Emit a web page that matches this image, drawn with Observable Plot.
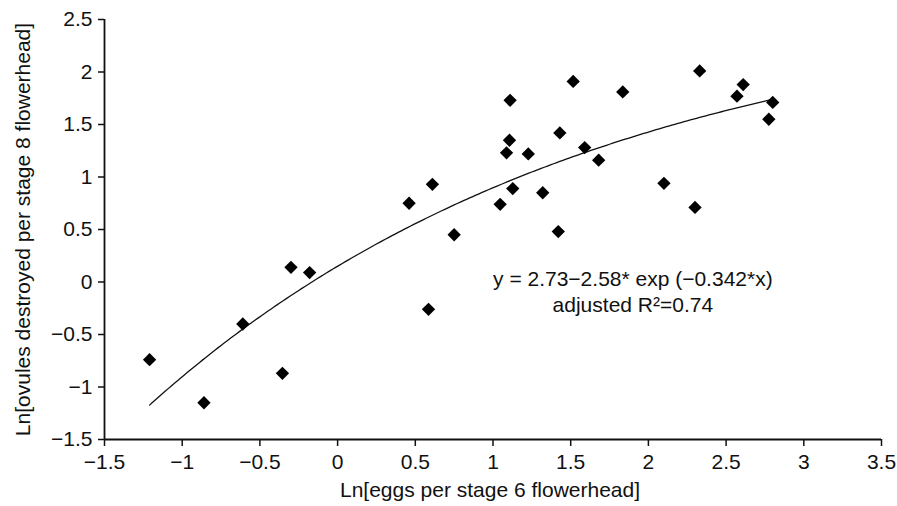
<!DOCTYPE html>
<html><head><meta charset="utf-8">
<script src="https://cdn.jsdelivr.net/npm/d3@7"></script>
<script src="https://cdn.jsdelivr.net/npm/@observablehq/plot@0.6"></script>
<style>html,body{margin:0;padding:0;background:#fff;}</style>
</head><body><div id="chart"></div>
<script>
// Observed points: Ln[eggs per stage 6 flowerhead] vs Ln[ovules destroyed per stage 8 flowerhead]
const eggsLn = [-1.21, -0.86, -0.61, -0.355, -0.30, -0.18, 0.46, 0.585, 0.61, 0.75,
  1.046, 1.087, 1.106, 1.11, 1.127, 1.227, 1.32, 1.42, 1.43, 1.516,
  1.59, 1.68, 1.835, 2.10, 2.30, 2.33, 2.57, 2.61, 2.775, 2.80];
const ovulesLn = [-0.74, -1.15, -0.40, -0.87, 0.14, 0.09, 0.75, -0.26, 0.93, 0.45,
  0.74, 1.23, 1.35, 1.73, 0.89, 1.22, 0.85, 0.48, 1.42, 1.91,
  1.28, 1.16, 1.81, 0.94, 0.71, 2.01, 1.77, 1.88, 1.55, 1.71];

const xTicks = [-1.5, -1, -0.5, 0, 0.5, 1, 1.5, 2, 2.5, 3, 3.5];
const yTicks = [-1.5, -1, -0.5, 0, 0.5, 1, 1.5, 2, 2.5];
const xLabel = "Ln[eggs per stage 6 flowerhead]";
const yLabel = "Ln[ovules destroyed per stage 8 flowerhead]";

// Fitted curve stated on the chart: y = 2.73 − 2.58·exp(−0.342·x)
const fitA = 2.73, fitB = 2.58, fitC = 0.342;
const fitXMin = -1.21, fitXMax = 2.8;
const annotationLines = ["y = 2.73\u22122.58* exp (\u22120.342*x)", "adjusted R\u00b2=0.74"];
const annotationX = 1.9, annotationY = -0.08;

const points = eggsLn.map((x, i) => ({x, y: ovulesLn[i]}));
const fitCurve = d3.range(fitXMin, fitXMax + 1e-9, 0.02).map(x => ({x, y: fitA - fitB * Math.exp(-fitC * x)}));
const fmt = d => d < 0 ? "\u2212" + Math.abs(d) : String(d);

const FS = 21;
const chart = Plot.plot({
  width: 897,
  height: 506,
  marginLeft: 104,
  marginRight: 16,
  marginTop: 19,
  marginBottom: 67,
  style: {fontFamily: "'Liberation Sans', Arial, Helvetica, sans-serif", fontSize: FS + "px", color: "#111", background: "#fff"},
  x: {domain: [-1.5, 3.5]},
  y: {domain: [-1.5, 2.5]},
  marks: [
    Plot.axisX({ticks: xTicks, tickFormat: fmt, tickSize: 7, tickPadding: 8, label: null, strokeWidth: 1.5, fontSize: FS}),
    Plot.axisY({ticks: yTicks, tickFormat: fmt, tickSize: 6, tickPadding: 6, label: null, strokeWidth: 1.5, fontSize: FS}),
    Plot.ruleX([-1.5], {stroke: "#111", strokeWidth: 1.8}),
    Plot.ruleY([-1.5], {stroke: "#111", strokeWidth: 1.8}),
    Plot.line(fitCurve, {x: "x", y: "y", stroke: "#111", strokeWidth: 1.3}),
    Plot.dot(points, {x: "x", y: "y", symbol: "diamond2", r: 6, fill: "#000", stroke: "none"}),
    Plot.text([annotationLines.join("\n")], {x: annotationX, y: annotationY, lineHeight: 1.25, fill: "#111", fontSize: FS}),
    Plot.text([xLabel], {frameAnchor: "bottom", dy: 57, dx: -3, fill: "#111", fontSize: FS}),
    Plot.text([yLabel], {frameAnchor: "left", textAnchor: "middle", dx: -81, rotate: -90, fill: "#111", fontSize: FS})
  ]
});
document.getElementById("chart").appendChild(chart);
</script>
</body></html>
